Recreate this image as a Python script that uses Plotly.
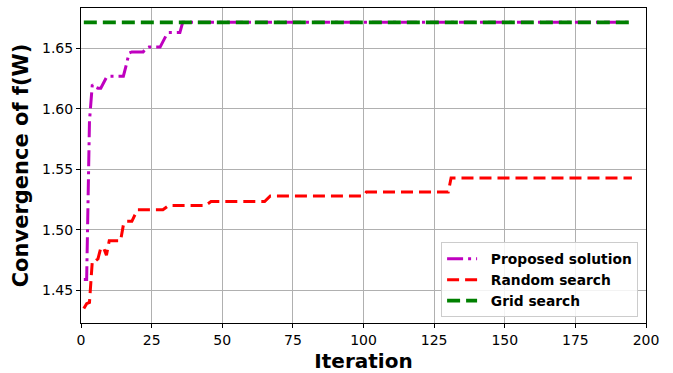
import plotly.graph_objects as go

# Iterations and values
prop_x = [1, 2, 3, 4, 5, 6, 7, 8, 9, 10, 15, 16, 17, 18, 22, 23, 24, 28, 29, 30, 31, 35, 36, 195]
prop_y = [1.459, 1.459, 1.59, 1.620, 1.618, 1.617, 1.617, 1.622, 1.626, 1.627, 1.627, 1.636, 1.646, 1.647, 1.647,
          1.650, 1.651, 1.651, 1.656, 1.660, 1.663, 1.663, 1.6715, 1.6715]

rand_x = [1, 2, 3, 4, 5, 6, 7, 8, 9, 10, 14, 15, 16, 18, 19, 20, 29, 31, 44, 46, 65, 67, 100, 101, 130, 131, 195]
rand_y = [1.435, 1.439, 1.440, 1.474, 1.474, 1.476, 1.485, 1.485, 1.479, 1.491, 1.491, 1.504, 1.507, 1.507, 1.512,
          1.5166, 1.5166, 1.520, 1.520, 1.5233, 1.5233, 1.528, 1.528, 1.5312, 1.5312, 1.5428, 1.5428]

grid_x = [1, 195]
grid_y = [1.6715, 1.6715]

x_ticks = [0, 25, 50, 75, 100, 125, 150, 175, 200]
y_ticks = [1.45, 1.50, 1.55, 1.60, 1.65]

FONT = "DejaVu Sans"
PAD = "\u00a0\u00a0"

fig = go.Figure()
fig.add_trace(go.Scatter(x=prop_x, y=prop_y, mode="lines", name=PAD + "<b>Proposed solution</b>",
                         line=dict(color="#BF00BF", width=3, dash="16px,5px,3px,5px")))
fig.add_trace(go.Scatter(x=rand_x, y=rand_y, mode="lines", name=PAD + "<b>Random search</b>",
                         line=dict(color="#FF0000", width=3, dash="12px,6px")))
fig.add_trace(go.Scatter(x=grid_x, y=grid_y, mode="lines", name=PAD + "<b>Grid search</b>",
                         line=dict(color="#008000", width=3.8, dash="13px,6px")))

axis_common = dict(showgrid=True, gridcolor="#b0b0b0", gridwidth=1, zeroline=False,
                   showline=True, linecolor="black", linewidth=1, mirror=True,
                   ticks="outside", ticklen=4, tickwidth=1, tickcolor="black",
                   automargin=False,
                   tickfont=dict(family=FONT, size=14, color="black"))

fig.update_xaxes(range=[0, 200], tickvals=x_ticks, ticktext=[str(v) for v in x_ticks],
                 title=dict(text="<b>Iteration</b>", font=dict(family=FONT, size=20, color="black"), standoff=9),
                 **axis_common)
fig.update_yaxes(range=[1.423, 1.6833], tickvals=y_ticks, ticktext=[f"{v:.2f}" for v in y_ticks],
                 title=dict(text="<b>Convergence of f(W)</b>", font=dict(family=FONT, size=21, color="black"), standoff=7),
                 **axis_common)

fig.update_layout(
    width=673, height=373,
    margin=dict(l=81, r=27, t=8, b=50),
    paper_bgcolor="white", plot_bgcolor="white",
    font=dict(family=FONT, color="black"),
    showlegend=True,
    legend=dict(x=0.986, y=0.018, xanchor="right", yanchor="bottom",
                bgcolor="rgba(255,255,255,0.85)", bordercolor="#cccccc", borderwidth=1,
                font=dict(family=FONT, size=13.8, color="black"),
                tracegroupgap=0, itemwidth=30),
)

fig.write_html("out.html")
